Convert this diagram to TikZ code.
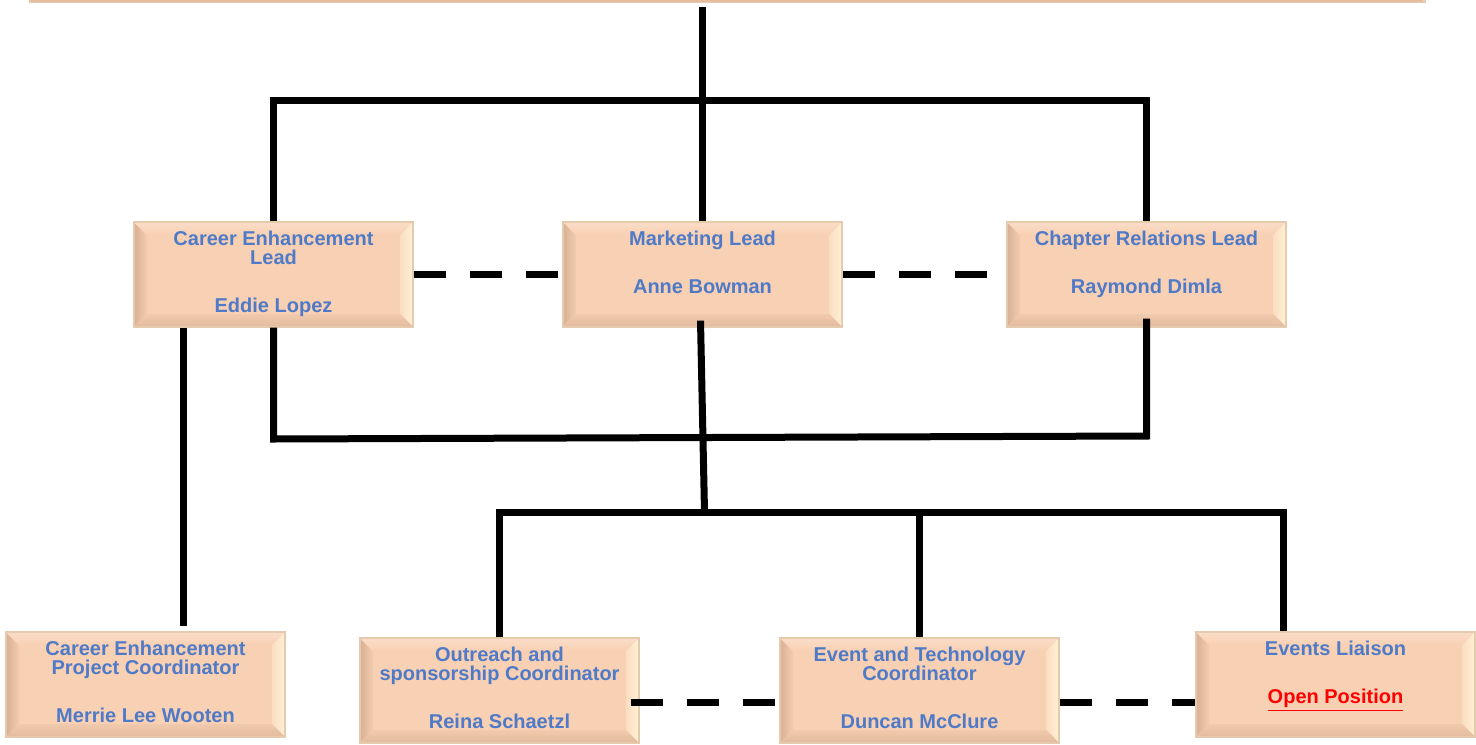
\documentclass[tikz,border=0pt]{standalone}
\usepackage{fontspec}
\setmainfont{Liberation Sans}
\usetikzlibrary{positioning}
\definecolor{boxface}{HTML}{F8D0B3}
\definecolor{boxedge}{HTML}{E6CAAE}
\definecolor{bevleft}{HTML}{D9B094}
\definecolor{bevtop}{HTML}{FADDC8}
\definecolor{bevright}{HTML}{FFF1D6}
\definecolor{bevbottom}{HTML}{E2BB9E}
\definecolor{roleblue}{HTML}{4E7AC7}
\definecolor{openred}{HTML}{FF0000}
% bevelled faces of a box, drawn inside its path picture
\newcommand\bevelfaces{%
  \coordinate (ppsw) at (path picture bounding box.south west);
  \coordinate (ppne) at (path picture bounding box.north east);
  \fill[left color=bevleft, right color=boxface!85!bevleft]
    (ppsw) -- (ppsw |- ppne) -- ([shift={(6.5pt,-6.5pt)}]ppsw |- ppne)
    -- ([shift={(6.5pt,6.5pt)}]ppsw) -- cycle;
  \fill[top color=bevtop, bottom color=boxface]
    (ppsw |- ppne) -- (ppne) -- ([shift={(-6.5pt,-6.5pt)}]ppne)
    -- ([shift={(6.5pt,-6.5pt)}]ppsw |- ppne) -- cycle;
  \fill[left color=boxface!60!bevright, right color=bevright]
    (ppne) -- (ppne |- ppsw) -- ([shift={(-6.5pt,6.5pt)}]ppne |- ppsw)
    -- ([shift={(-6.5pt,-6.5pt)}]ppne) -- cycle;
  \fill[top color=boxface!70!bevbottom, bottom color=bevbottom]
    (ppsw) -- (ppne |- ppsw) -- ([shift={(-6.5pt,6.5pt)}]ppne |- ppsw)
    -- ([shift={(6.5pt,6.5pt)}]ppsw) -- cycle;}
\tikzset{
rolebox/.style={ % bevelled peach box
  draw=boxedge, line width=0.6pt, fill=boxface,
  minimum width=139.5pt, minimum height=52.5pt, inner sep=0pt,
  path picture={\bevelfaces}},
roletext/.style={ % title and name inside a box
  font=\bfseries\fontsize{10}{9.5}\selectfont,
  text=roleblue, align=center, inner sep=0pt},
link/.style={line width=3.5pt},
dashlink/.style={line width=3.5pt, dash pattern=on 16pt off 12pt}}

\begin{document}
\begin{tikzpicture}[x=0.5pt,y=-0.5pt]
\useasboundingbox (0,0) rectangle (1476,744);
\clip (0,0) rectangle (1476,744);
% boxes
\node[rolebox, minimum width=697.5pt] (chair) at (727.5,-50) {};
\node[rolebox] (celead) at (273.5,274.5) {};
\node[rolebox] (mklead) at (702.5,274.5) {};
\node[rolebox] (crlead) at (1146.5,274.5) {};
\node[rolebox] (cecoord) at (145.5,684.5) {};
\node[rolebox] (oscoord) at (499.5,690.5) {};
\node[rolebox] (etcoord) at (919.5,690.5) {};
\node[rolebox] (evliaison) at (1335.5,684.5) {};
% texts
\node[roletext, below=4.5pt of celead.north] (celead-t)
  {Career Enhancement\\Lead\\[14.5pt]Eddie Lopez};
\node[roletext, below=4.5pt of mklead.north] (mklead-t)
  {Marketing Lead\\[14.5pt]Anne Bowman};
\node[roletext, below=4.5pt of crlead.north] (crlead-t)
  {Chapter Relations Lead\\[14.5pt]Raymond Dimla};
\node[roletext, below=4.5pt of cecoord.north] (cecoord-t)
  {Career Enhancement\\Project Coordinator\\[14.5pt]Merrie Lee Wooten};
\node[roletext, below=4.5pt of oscoord.north] (oscoord-t)
  {Outreach and\\sponsorship Coordinator\\[14.5pt]Reina Schaetzl};
\node[roletext, below=4.5pt of etcoord.north] (etcoord-t)
  {Event and Technology\\Coordinator\\[14.5pt]Duncan McClure};
\node[roletext, below=4.5pt of evliaison.north] (evliaison-t)
  {Events Liaison\\[14.5pt]{\color{openred}\underline{Open Position}}};
% solid links
\coordinate (topbar) at (0,100);
\coordinate (loopL) at (0,439);
\coordinate (loopR) at (0,436);
\coordinate (lowbar) at (0,512);
\draw[link] ([yshift=-2pt]chair.south -| mklead.north) -- (mklead.north);
\draw[link] (celead.north) -- (celead.north |- topbar)
  -- (crlead.north |- topbar) -- (crlead.north);
\draw[link] (celead.south) -- (celead.south |- loopL)
  -- (crlead.south |- loopR) -- ([yshift=4.5pt]crlead.south);
\draw[link] ([xshift=-45.25pt]celead.south)
  -- ([xshift=-45.25pt,yshift=2.5pt]celead.south |- cecoord.north);
\draw[link] ([xshift=-1pt,yshift=3.5pt]mklead.south)
  -- ([xshift=1pt]mklead.south |- lowbar);
\draw[link] (oscoord.north) -- (oscoord.north |- lowbar)
  -- ([xshift=-26.25pt]evliaison.north |- lowbar)
  -- ([xshift=-26.25pt]evliaison.north);
\draw[link] (etcoord.north) -- (etcoord.north |- lowbar);
% dashed links
\coordinate (dashrow) at (0,702);
\draw[dashlink] (celead.east) -- (mklead.west);
\draw[dashlink] (mklead.east) -- (crlead.west);
\draw[dashlink] ([xshift=-4.5pt]oscoord.east |- dashrow) -- (etcoord.west |- dashrow);
\draw[dashlink] (etcoord.east |- dashrow) -- (evliaison.west |- dashrow);
\end{tikzpicture}
\end{document}
